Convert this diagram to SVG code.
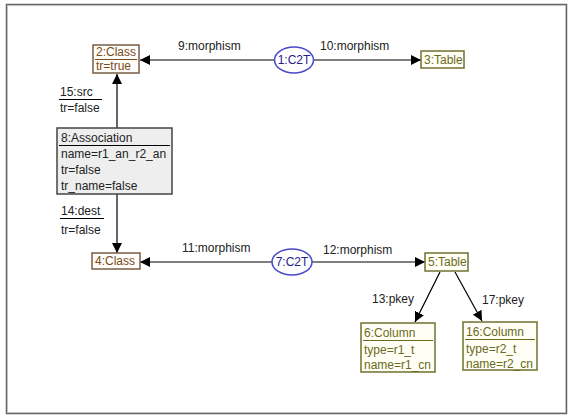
<svg xmlns="http://www.w3.org/2000/svg" width="571" height="417" viewBox="0 0 571 417">
<style>
text{font-family:"Liberation Sans",Arial,sans-serif;font-size:12px;fill:#222}
.cls rect{fill:#fffdfa;stroke:#7a5c44;stroke-width:1.5}
.cls text{fill:#7a4a22}
.tbl rect{fill:#fffff6;stroke:#707030;stroke-width:1.5}
.tbl text{fill:#6a6a20}
.sep{stroke-width:1}
.ell ellipse{fill:#fff;stroke:#4a4ac8;stroke-width:1.5}
.ell text{fill:#22228a}
.edge{stroke:#000;stroke-width:1.2;fill:none}
</style>
<defs>
<marker id="ah" viewBox="0 0 10 10" refX="10" refY="5" markerWidth="10" markerHeight="10" markerUnits="userSpaceOnUse" orient="auto">
<path d="M0,0 L10,5 L0,10 z" fill="#000"/>
</marker>
</defs>
<rect x="0" y="0" width="571" height="417" fill="#fff"/>
<rect x="6.5" y="4.5" width="560" height="409" fill="none" stroke="#666" stroke-width="1.5"/>
<rect x="7.5" y="5.5" width="558" height="407" fill="none" stroke="#bbb" stroke-width="0.8"/>

<g id="connectors">
<line class="edge" x1="275" y1="60" x2="140" y2="60" marker-end="url(#ah)"/>
<line class="edge" x1="313" y1="60" x2="421" y2="60" marker-end="url(#ah)"/>
<line class="edge" x1="117" y1="128" x2="117" y2="74" marker-end="url(#ah)"/>
<line class="edge" x1="117" y1="194" x2="117" y2="253" marker-end="url(#ah)"/>
<line class="edge" x1="272" y1="262" x2="140" y2="262" marker-end="url(#ah)"/>
<line class="edge" x1="312" y1="262" x2="425" y2="262" marker-end="url(#ah)"/>
<line class="edge" x1="440" y1="272" x2="415" y2="322" marker-end="url(#ah)"/>
<line class="edge" x1="455" y1="272" x2="482" y2="321" marker-end="url(#ah)"/>
<text x="178" y="50">9:morphism</text>
<text x="320" y="50">10:morphism</text>
<text x="60" y="96">15:src</text>
<line x1="59" y1="99.5" x2="102" y2="99.5" stroke="#000" stroke-width="1"/>
<text x="60" y="112">tr=false</text>
<text x="61" y="215">14:dest</text>
<line x1="60" y1="218.5" x2="104" y2="218.5" stroke="#000" stroke-width="1"/>
<text x="61" y="234">tr=false</text>
<text x="182" y="252">11:morphism</text>
<text x="323" y="254">12:morphism</text>
<text x="372" y="303">13:pkey</text>
<text x="482" y="304">17:pkey</text>
</g>

<g id="n2" class="cls">
<rect x="93" y="45" width="46" height="28"/>
<text x="96" y="56">2:Class</text>
<line class="sep" x1="95" y1="59.5" x2="137" y2="59.5" stroke="#7a4a22"/>
<text x="96" y="70" style="fill:#7a4a22">tr=true</text>
</g>

<g id="n1" class="ell">
<ellipse cx="294" cy="60" rx="19.5" ry="13"/>
<text x="294" y="64" text-anchor="middle">1:C2T</text>
</g>

<g id="n3" class="tbl">
<rect x="421" y="51" width="43" height="17"/>
<text x="424" y="64">3:Table</text>
</g>

<g id="n8">
<rect x="57" y="128" width="115" height="66" fill="#eeeeee" stroke="#444" stroke-width="1.5"/>
<text x="61" y="142">8:Association</text>
<line x1="59" y1="145.5" x2="170" y2="145.5" stroke="#000" stroke-width="1"/>
<text x="61" y="158">name=r1_an_r2_an</text>
<text x="61" y="174">tr=false</text>
<text x="61" y="190">tr_name=false</text>
</g>

<g id="n4" class="cls">
<rect x="92" y="253" width="48" height="16"/>
<text x="95" y="265">4:Class</text>
</g>

<g id="n7" class="ell">
<ellipse cx="292" cy="262" rx="20" ry="13"/>
<text x="292" y="266" text-anchor="middle">7:C2T</text>
</g>

<g id="n5" class="tbl">
<rect x="425" y="253" width="43" height="18"/>
<text x="428" y="266">5:Table</text>
</g>

<g id="n6" class="tbl">
<rect x="361" y="323" width="74" height="49"/>
<text x="364" y="337">6:Column</text>
<line class="sep" x1="363" y1="340.5" x2="433" y2="340.5" stroke="#6a6a20"/>
<text x="364" y="354">type=r1_t</text>
<text x="364" y="369">name=r1_cn</text>
</g>

<g id="n16" class="tbl">
<rect x="463" y="322" width="74" height="48"/>
<text x="466" y="336">16:Column</text>
<line class="sep" x1="465" y1="339.5" x2="535" y2="339.5" stroke="#6a6a20"/>
<text x="466" y="353">type=r2_t</text>
<text x="466" y="368">name=r2_cn</text>
</g>
</svg>
